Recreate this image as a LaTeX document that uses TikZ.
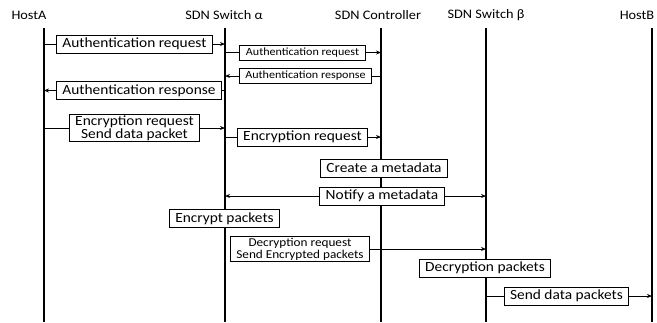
\documentclass[tikz,border=0pt]{standalone}
\usepackage{fontspec}
\setmainfont{Carlito}[FakeStretch=1.1]
\usetikzlibrary{arrows.meta}

\begin{document}
\begin{tikzpicture}[x=1pt,y=-1pt,>={Stealth[length=5pt,width=4pt]},
  head/.style={font=\fontsize{13}{14}\selectfont},
  life/.style={line width=1.2pt},
  msg/.style={draw,line width=0.9pt,fill=white,inner xsep=6pt,inner ysep=1pt,minimum height=18pt,font=\fontsize{14}{13}\selectfont,align=center},
  smallmsg/.style={msg,minimum height=15pt,font=\fontsize{11}{12}\selectfont},
  link/.style={line width=0.9pt}]
  \useasboundingbox (0,0) rectangle (657,322);
  % lifelines
  \foreach \n/\x in {hA/44,sA/225,ctl/381,sB/486,hB/652}{
    \coordinate (\n-top) at (\x,28);
    \coordinate (\n-bot) at (\x,322);
    \draw[life] (\n-top) -- (\n-bot);
  }
  \node[head] (hA) at (29,15) {HostA};
  \node[head] (sA) at (224,15) {SDN Switch α};
  \node[head] (ctl) at (378,15) {SDN Controller};
  \node[head] (sB) at (486,15) {SDN Switch β};
  \node[head] (hB) at (637,15) {HostB};

  % authentication
  \node[msg] (m1) at (134.5,44) {Authentication request};
  \draw[link] (m1 -| hA-top) -- (m1.west);
  \draw[link,->] (m1.east) -- (m1 -| sA-top);
  \node[smallmsg] (m2) at (302.5,52.5) {Authentication request};
  \draw[link] (m2 -| sA-top) -- (m2.west);
  \draw[link,->] (m2.east) -- (m2 -| ctl-top);
  \node[smallmsg] (m3) at (305.5,76) {Authentication response};
  \draw[link] (m3 -| ctl-top) -- (m3.east);
  \draw[link,->] (m3.west) -- (m3 -| sA-top);
  \node[msg] (m4) at (139,90.5) {Authentication response};
  \draw[link] (m4 -| sA-top) -- (m4.east);
  \draw[link,->] (m4.west) -- (m4 -| hA-top);

  % encryption
  \node[msg] (m5) at (134.5,128) {Encryption request\\Send data packet};
  \draw[link] (m5 -| hA-top) -- (m5.west);
  \draw[link,->] (m5.east) -- (m5 -| sA-top);
  \node[msg] (m6) at (302.5,137) {Encryption request};
  \draw[link] (m6 -| sA-top) -- (m6.west);
  \draw[link,->] (m6.east) -- (m6 -| ctl-top);
  \node[msg] (m7) at (384,168) {Create a metadata};
  \node[msg] (m8) at (382,196) {Notify a metadata};
  \draw[link,->] (m8.west) -- (m8 -| sA-top);
  \draw[link,->] (m8.east) -- (m8 -| sB-top);
  \node[msg] (m9) at (224.5,218.5) {Encrypt packets};

  % decryption
  \node[smallmsg,font=\fontsize{12}{12}\selectfont] (m10) at (300,249) {Decryption request\\Send Encrypted packets};
  \draw[link,->] (m10.east) -- (m10 -| sB-top);
  \node[msg] (m11) at (485,268) {Decryption packets};
  \node[msg] (m12) at (566.5,296) {Send data packets};
  \draw[link] (m12 -| sB-top) -- (m12.west);
  \draw[link,->] (m12.east) -- (m12 -| hB-top);
\end{tikzpicture}
\end{document}
